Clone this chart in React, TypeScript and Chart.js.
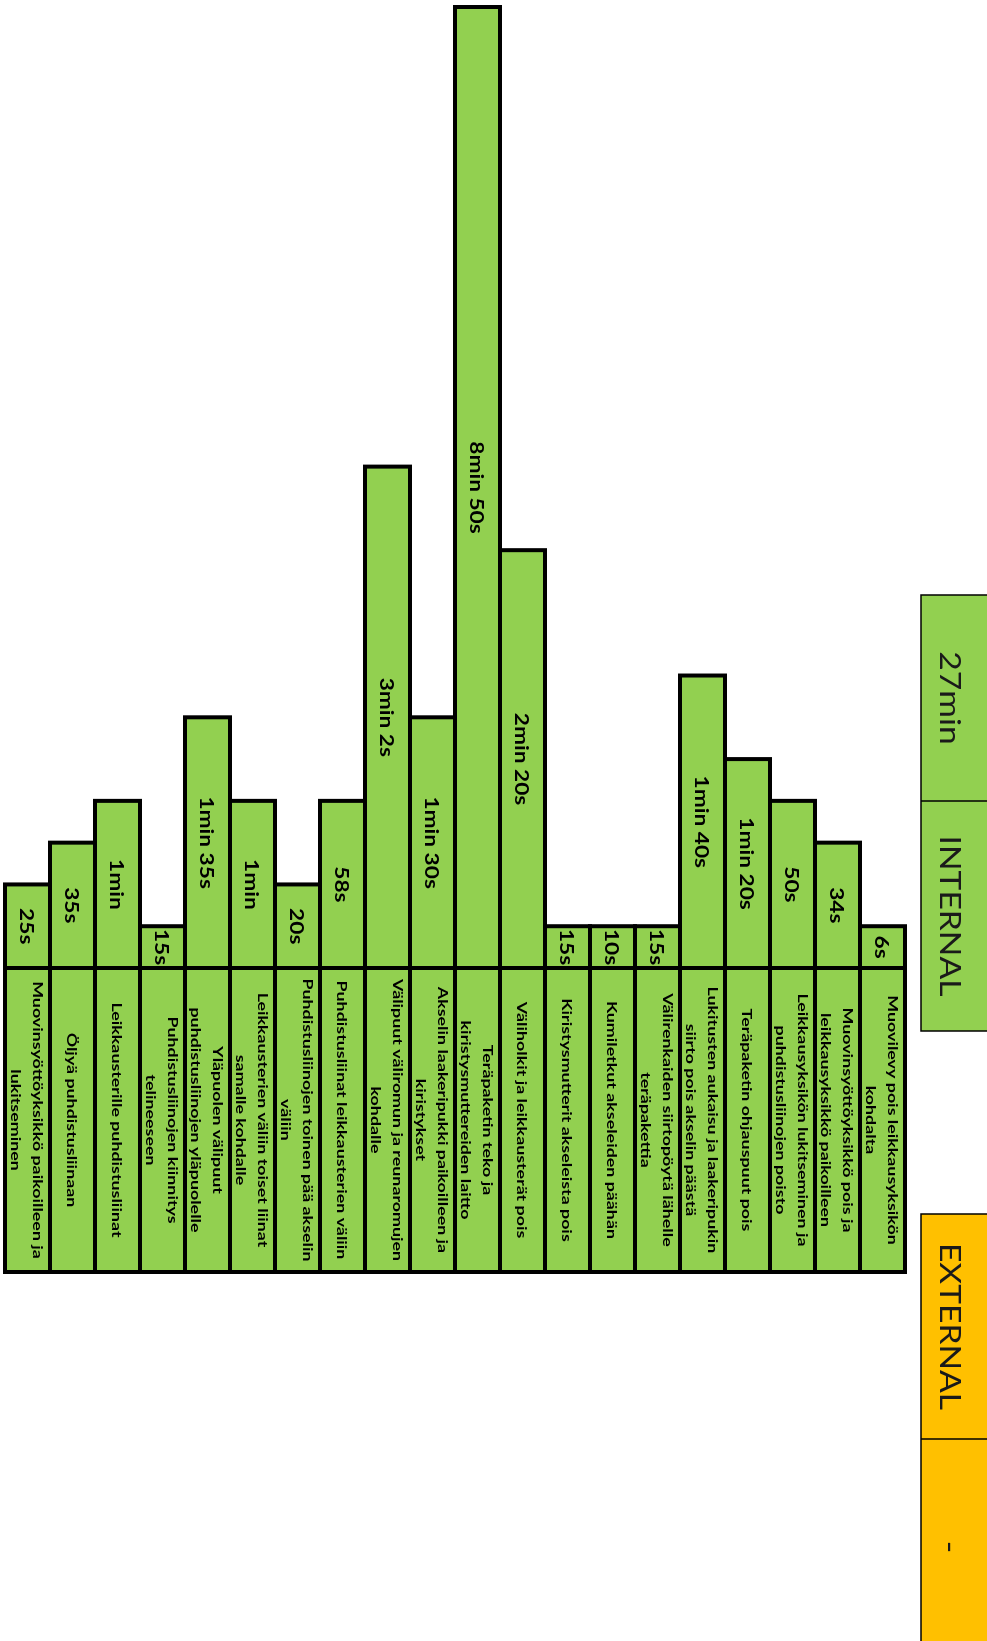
import React, { useEffect, useRef } from 'react';
import { Chart, registerables } from 'chart.js';

Chart.register(...registerables);

const GREEN = '#92D050';
const ORANGE = '#FFC000';

const taskLabels: string[][] = [
  ['Muovinsyöttöyksikkö paikoilleen ja', 'lukitseminen'],
  ['Öljyä puhdistusliinaan'],
  ['Leikkausterille puhdistusliinat'],
  ['Puhdistusliinojen kiinnitys', 'telineeseen'],
  ['Yläpuolen välipuut', 'puhdistusliinojen yläpuolelle'],
  ['Leikkausterien väliin toiset liinat', 'samalle kohdalle'],
  ['Puhdistusliinojen toinen pää akselin', 'väliin'],
  ['Puhdistusliinat leikkausterien väliin'],
  ['Välipuut väliromun ja reunaromujen', 'kohdalle'],
  ['Akselin laakeripukki paikoilleen ja', 'kiristykset'],
  ['Teräpaketin teko ja', 'kiristysmuttereiden laitto'],
  ['Väliholkit ja leikkausterät pois'],
  ['Kiristysmutterit akseleista pois'],
  ['Kumiletkut akseleiden päähän'],
  ['Välirenkaiden siirtopöytä lähelle', 'teräpakettia'],
  ['Lukitusten aukaisu ja laakeripukin', 'siirto pois akselin päästä'],
  ['Teräpaketin ohjauspuut pois'],
  ['Leikkausyksikön lukitseminen ja', 'puhdistusliinojen poisto'],
  ['Muovinsyöttöyksikkö pois ja', 'leikkausyksikkö paikoilleen'],
  ['Muovilevy pois leikkausyksikön', 'kohdalta'],
];

const durationLabels: string[] = [
  '25s', '35s', '1min', '15s', '1min 35s', '1min', '20s', '58s', '3min 2s', '1min 30s',
  '8min 50s', '2min 20s', '15s', '10s', '15s', '1min 40s', '1min 20s', '50s', '34s', '6s',
];

const barUnits: number[] = [2, 3, 4, 1, 6, 4, 2, 4, 12, 6, 23, 10, 1, 1, 1, 7, 5, 4, 3, 1];

const internalBox: string[] = ['27min', 'INTERNAL'];
const externalBox: string[] = ['EXTERNAL', '-'];

function drawRotated(
  ctx: CanvasRenderingContext2D,
  lines: string[],
  cx: number,
  cy: number,
  font: string,
  stretch: number,
  spacing: number,
  color: string,
  shift = 0
) {
  ctx.save();
  ctx.translate(cx, cy);
  ctx.rotate(Math.PI / 2);
  ctx.scale(stretch, 1);
  ctx.font = font;
  ctx.fillStyle = color;
  ctx.textAlign = 'center';
  ctx.textBaseline = 'middle';
  const n = lines.length;
  lines.forEach((l, i) => {
    ctx.fillText(l, 0, (i - (n - 1) / 2) * spacing + shift);
  });
  ctx.restore();
}

const LABEL_H = 304;

const overlayPlugin = {
  id: 'overlay',
  afterDraw(chart: any) {
    const { ctx, chartArea: ca } = chart;
    const meta = chart.getDatasetMeta(0);
    const boxTop = ca.bottom;
    const boxBot = ca.bottom + LABEL_H;
    ctx.save();
    // label box
    ctx.fillStyle = GREEN;
    ctx.fillRect(ca.left, boxTop, ca.right - ca.left, LABEL_H);
    ctx.strokeStyle = '#000';
    ctx.lineWidth = 4;
    ctx.lineJoin = 'miter';
    meta.data.forEach((bar: any, i: number) => {
      const { x, y, base, width } = bar.getProps(['x', 'y', 'base', 'width'], true);
      ctx.strokeRect(x - width / 2, y, width, base - y);
      if (i > 0) {
        ctx.beginPath();
        ctx.moveTo(x - width / 2, boxTop);
        ctx.lineTo(x - width / 2, boxBot);
        ctx.stroke();
      }
    });
    ctx.strokeRect(ca.left, boxTop, ca.right - ca.left, LABEL_H);
    ctx.restore();

    // texts
    meta.data.forEach((bar: any, i: number) => {
      const { x, y, base } = bar.getProps(['x', 'y', 'base'], true);
      drawRotated(ctx, [durationLabels[i]], x, (y + base) / 2, '700 18px Lato', 1.26, 0, '#000', 2);
      drawRotated(ctx, taskLabels[i], x, boxTop + LABEL_H / 2, '700 13.5px Lato', 1.32, 22, '#000', 1);
    });

    // summary boxes
    const bx = ca.right + 16;
    const drawBox = (top: number, mid: number, bottom: number, color: string, texts: string[]) => {
      ctx.save();
      ctx.fillStyle = color;
      ctx.fillRect(bx, top, 120, bottom - top);
      ctx.strokeStyle = '#000';
      ctx.lineWidth = 1.5;
      ctx.strokeRect(bx, top, 120, bottom - top);
      ctx.beginPath();
      ctx.moveTo(bx, mid);
      ctx.lineTo(bx + 120, mid);
      ctx.stroke();
      ctx.restore();
      drawRotated(ctx, [texts[0]], bx + 29, (top + mid) / 2, '400 28px Lato', 1.2, 0, '#1a1a1a', 1);
      drawRotated(ctx, [texts[1]], bx + 29, (mid + bottom) / 2, '400 28px Lato', 1.2, 0, '#1a1a1a', 1);
    };
    drawBox(595, 801, 1031, GREEN, internalBox);
    drawBox(1214, 1439, 1655, ORANGE, externalBox);
  },
};

export default function App() {
  const ref = useRef<HTMLCanvasElement | null>(null);
  useEffect(() => {
    if (!ref.current) return;
    const chart = new Chart(ref.current, {
      type: 'bar',
      data: {
        labels: taskLabels.map((l) => l.join(' ')),
        datasets: [
          {
            data: barUnits,
            backgroundColor: GREEN,
            borderWidth: 0,
            barPercentage: 1,
            categoryPercentage: 1,
          },
        ],
      },
      options: {
        responsive: false,
        animation: false,
        devicePixelRatio: 1,
        layout: { padding: { left: 5, right: 82, top: 7, bottom: 673 } },
        scales: {
          x: { display: false },
          y: { display: false, min: 0, max: 23 },
        },
        plugins: { legend: { display: false }, tooltip: { enabled: false } },
      },
      plugins: [overlayPlugin],
    });
    return () => chart.destroy();
  }, []);
  return (
    <canvas
      ref={ref}
      width={987}
      height={1641}
      style={{ position: 'fixed', left: 0, top: 0, display: 'block', background: '#fff' }}
    />
  );
}
